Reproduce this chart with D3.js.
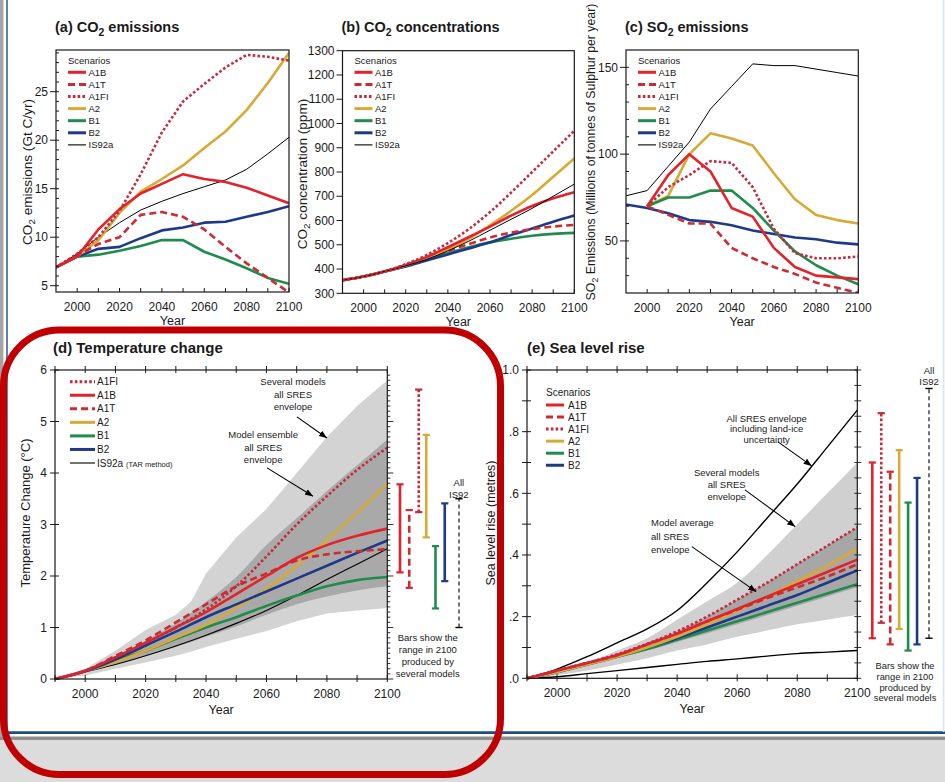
<!DOCTYPE html>
<html><head><meta charset="utf-8">
<script src="https://cdn.jsdelivr.net/npm/d3@7/dist/d3.min.js"></script>
<style>
html,body{margin:0;padding:0;background:#fff;}
svg{display:block;}
svg text{font-family:"Liberation Sans",Arial,Helvetica,sans-serif;fill:#1a1a1a;}
</style></head><body>
<svg id="chart" width="945" height="782"></svg>
<script>
// ================= DATA =================
const years = [1990,2000,2010,2020,2030,2040,2050,2060,2070,2080,2090,2100];
const yearTicks = [2000,2020,2040,2060,2080,2100];

// (a) CO2 emissions (Gt C/yr)
const emA1B   = [6.9,8.0,10.8,12.9,14.5,15.5,16.5,16.0,15.7,15.1,14.3,13.5];
const emA1T   = [6.9,8.1,9.3,10.0,12.3,12.6,12.1,10.8,9.0,7.3,5.8,4.3];
const emA1FI  = [6.9,8.3,10.0,12.7,16.5,20.8,24.0,25.8,27.5,28.8,28.6,28.2];
const emA2    = [6.9,8.0,9.7,12.5,14.7,16.0,17.4,19.2,20.9,23.1,25.9,29.0];
const emB1    = [6.9,8.0,8.2,8.6,9.1,9.7,9.7,8.5,7.7,6.8,5.8,5.2];
const emB2    = [6.9,8.0,8.8,9.0,9.9,10.7,11.0,11.5,11.6,12.1,12.6,13.2];
const emIS92a = [6.9,8.3,10.0,11.5,12.8,13.7,14.5,15.2,15.9,17.0,18.6,20.3];
const emTicks = [5,10,15,20,25];

// (b) CO2 concentrations (ppm)
const coA1B   = [354,369,390,417,450,490,532,575,620,660,692,717];
const coA1T   = [354,369,390,415,445,475,503,530,550,565,575,582];
const coA1FI  = [354,369,390,420,458,507,565,635,715,800,885,970];
const coA2    = [354,369,390,415,445,480,525,580,640,705,780,856];
const coB1    = [354,369,390,412,440,465,490,510,525,537,545,549];
const coB2    = [354,369,390,410,435,460,485,510,540,567,595,621];
const coIS92a = [354,369,390,413,440,475,515,560,605,650,700,750];
const coTicks = [300,400,500,600,700,800,900,1000,1100,1200,1300];

// (c) SO2 emissions (Mt S/yr)
const soA1B   = [null,70,88,100,90,69,64,46,35,30,29,28];
const soA1T   = [null,70,65,60,60,46,40,35,31,26,23,20];
const soA1FI  = [null,70,81,88,96,95,81,57,43,40,40,41];
const soA2    = [null,70,76,100,112,109,105,89,74,65,62,60];
const soB1    = [null,70,75,75,79,79,69,56,44,36,30,25];
const soB2    = [71,69,66,62,61,59,56,54,52,51,49,48];
const soIS92a = [76,79,93,107,126,139,152,151,151,149,147,145];
const soTicks = [50,100,150];

// (d) Temperature change (°C)
const tA1FI  = [0,0.16,0.42,0.70,1.00,1.35,1.80,2.38,3.00,3.55,4.06,4.49];
const tA1B   = [0,0.16,0.42,0.70,1.00,1.30,1.65,2.00,2.35,2.60,2.78,2.92];
const tA1T   = [0,0.16,0.45,0.75,1.10,1.45,1.80,2.05,2.30,2.42,2.48,2.52];
const tA2    = [0,0.15,0.33,0.55,0.80,1.05,1.38,1.75,2.20,2.70,3.23,3.79];
const tB1    = [0,0.15,0.35,0.55,0.78,1.00,1.20,1.42,1.62,1.80,1.92,1.98];
const tB2    = [0,0.15,0.38,0.65,0.92,1.20,1.45,1.70,1.95,2.20,2.45,2.69];
const tIS92a = [0,0.14,0.28,0.45,0.64,0.85,1.08,1.33,1.62,1.93,2.23,2.53];
const envYears    = [1990,2000,2010,2020,2030,2035,2040,2050,2060,2070,2080,2090,2100];
const tSeveralHi  = [0,0.20,0.55,0.95,1.25,1.50,2.05,2.75,3.30,4.00,4.70,5.30,5.80];
const tSeveralLo  = [0,0.07,0.20,0.32,0.45,0.53,0.62,0.78,0.93,1.12,1.27,1.33,1.38];
const tEnsembleHi = [0,0.17,0.44,0.75,1.08,1.28,1.50,1.98,2.60,3.12,3.65,4.15,4.65];
const tEnsembleLo = [0,0.12,0.28,0.45,0.62,0.72,0.82,1.02,1.25,1.45,1.60,1.72,1.80];
const tTicks = [0,1,2,3,4,5,6];
const tBarNames = ["A1B","A1T","A1FI","A2","B1","B2","IS92"];
const tBarLow   = [2.07,1.77,3.24,2.75,1.37,1.90,1.00];
const tBarHigh  = [3.78,3.28,5.62,4.74,2.58,3.41,3.50];

// (e) Sea level rise (metres)
const sA1B   = [0,0.025,0.050,0.075,0.110,0.145,0.185,0.225,0.265,0.305,0.345,0.385];
const sA1T   = [0,0.025,0.050,0.075,0.110,0.145,0.185,0.222,0.260,0.295,0.330,0.370];
const sA1FI  = [0,0.025,0.050,0.078,0.112,0.152,0.200,0.255,0.310,0.370,0.430,0.490];
const sA2    = [0,0.020,0.045,0.070,0.100,0.135,0.175,0.220,0.265,0.315,0.365,0.420];
const sB1    = [0,0.020,0.045,0.070,0.095,0.125,0.155,0.185,0.215,0.245,0.275,0.305];
const sB2    = [0,0.020,0.045,0.070,0.100,0.130,0.165,0.200,0.235,0.270,0.310,0.350];
const sLandIceHi = [0,0.030,0.070,0.115,0.160,0.220,0.310,0.410,0.520,0.630,0.750,0.870];
const sLandIceLo = [0,0.005,0.015,0.025,0.035,0.045,0.055,0.063,0.072,0.080,0.085,0.090];
const sSeveralHi = [0,0.020,0.050,0.090,0.130,0.190,0.250,0.310,0.400,0.500,0.600,0.700];
const sSeveralLo = [0,0.010,0.025,0.045,0.065,0.090,0.110,0.135,0.155,0.175,0.190,0.205];
const sAverageHi = [0,0.025,0.050,0.078,0.112,0.152,0.200,0.255,0.310,0.370,0.430,0.490];
const sAverageLo = [0,0.020,0.043,0.066,0.090,0.118,0.146,0.175,0.205,0.235,0.265,0.295];
const sTicks = [0,0.2,0.4,0.6,0.8,1.0];
const sTickLabels = [".0",".2",".4",".6",".8","1.0"];
const sBarNames = ["A1B","A1FI","A1T","A2","B1","B2","IS92"];
const sBarLow   = [0.13,0.18,0.11,0.16,0.09,0.11,0.13];
const sBarHigh  = [0.70,0.86,0.67,0.74,0.57,0.65,0.94];

// ================= STYLES =================
const STY = {
  A1B:  {c:"#e2232c", dash:null,     w:2.6},
  A1T:  {c:"#cc2b31", dash:"7,4",    w:2.6},
  A1FI: {c:"#c52a3e", dash:"2.6,2.2",w:2.6},
  A2:   {c:"#d8aa35", dash:null,     w:2.6},
  B1:   {c:"#1f8b4d", dash:null,     w:2.6},
  B2:   {c:"#1d3a88", dash:null,     w:2.6},
  IS92a:{c:"#000",    dash:null,     w:1.0},
  IS92: {c:"#000",    dash:"4,3",    w:1.1}
};

const svg = d3.select("#chart");
const defs = svg.append("defs");
defs.append("marker").attr("id","arr").attr("viewBox","0 0 10 8")
  .attr("refX",10).attr("refY",4).attr("markerWidth",8).attr("markerHeight",6.5)
  .attr("markerUnits","userSpaceOnUse").attr("orient","auto")
  .append("path").attr("d","M0,0L10,4L0,8Z").attr("fill","#000");

// ---------- slide frame ----------
svg.append("rect").attr("x",0).attr("y",0).attr("width",945).attr("height",782).attr("fill","#fff");
svg.append("rect").attr("x",0).attr("y",740).attr("width",945).attr("height",42).attr("fill","#dcdcdc");
svg.append("rect").attr("x",0).attr("y",736.5).attr("width",945).attr("height",3.5).attr("fill","#8d8d8d");
svg.append("rect").attr("x",0).attr("y",0).attr("width",3.4).attr("height",737).attr("fill","#a4a4a4");
svg.append("line").attr("x1",7).attr("x2",7).attr("y1",0).attr("y2",733).attr("stroke","#3b6290").attr("stroke-width",1.6);
svg.append("line").attr("x1",6).attr("x2",945).attr("y1",732.6).attr("y2",732.6).attr("stroke","#1f4f80").attr("stroke-width",2.6);
svg.append("line").attr("x1",943.6).attr("x2",943.6).attr("y1",0).attr("y2",732).attr("stroke","#d8e6f2").attr("stroke-width",1.6);

// ---------- helpers ----------
function rich(g, x, y, parts, size, opts={}) {
  const t = g.append("text").attr("x",x).attr("y",y).attr("font-size",size);
  if (opts.anchor) t.attr("text-anchor",opts.anchor);
  if (opts.weight) t.attr("font-weight",opts.weight);
  if (opts.rotate) t.attr("transform",`rotate(-90,${x},${y})`);
  let shifted = false;
  parts.forEach(p => {
    const s = t.append("tspan").text(p.t);
    if (p.sub) { s.attr("font-size",size*0.72).attr("dy",size*0.28); shifted = true; }
    else if (shifted) { s.attr("dy",-size*0.28); shifted = false; }
    if (p.size) s.attr("font-size",p.size);
  });
  return t;
}
function lines3(g, x, y, arr, size, lh, anchor) {
  const t = g.append("text").attr("font-size",size).attr("text-anchor",anchor||"middle");
  arr.forEach((s,i)=> t.append("tspan").attr("x",x).attr("y",y+i*lh).text(s));
}
function tick(g, x1,y1,x2,y2, w) {
  g.append("line").attr("x1",x1).attr("y1",y1).attr("x2",x2).attr("y2",y2)
   .attr("stroke","#1a1a1a").attr("stroke-width",w||1);
}
function zipYears(ys, vals){ return ys.map((yr,i)=>[yr, vals[i]]); }
function drawSeries(g, x, y, list, curve) {
  const ln = d3.line().defined(d=>d[1]!=null).x(d=>x(d[0])).y(d=>y(d[1])).curve(curve);
  list.forEach(s=>{
    const st = STY[s.name];
    g.append("path").datum(zipYears(s.years||years, s.values)).attr("d",ln)
      .attr("fill","none").attr("stroke",st.c).attr("stroke-width",s.w||st.w)
      .attr("stroke-dasharray",st.dash).attr("stroke-linejoin","round");
  });
}
function legend(g, x0, yFirst, step, names, len, gap, size, header, labels) {
  if (header) g.append("text").attr("x",x0).attr("y",yFirst-step+3.5).attr("font-size",size).text(header);
  names.forEach((n,i)=>{
    const st = STY[n], yy = yFirst + i*step;
    g.append("line").attr("x1",x0).attr("x2",x0+len).attr("y1",yy).attr("y2",yy)
      .attr("stroke",st.c).attr("stroke-width",n==="IS92a"?1.1:3).attr("stroke-dasharray",st.dash);
    const lab = labels ? labels[i] : [{t:n}];
    rich(g, x0+len+gap, yy+3.5, lab, size);
  });
}

// ---------- top panels ----------
function topPanel(o) {
  const x = d3.scaleLinear().domain([1990,2100]).range([o.x0,o.x1]);
  const y = d3.scaleLinear().domain(o.yDomain).range([o.y1,o.y0]);
  const g = svg.append("g");
  const cid = "clip"+o.id;
  defs.append("clipPath").attr("id",cid).append("rect")
    .attr("x",o.x0).attr("y",o.y0).attr("width",o.x1-o.x0).attr("height",o.y1-o.y0);
  const gl = g.append("g").attr("clip-path",`url(#${cid})`);
  drawSeries(gl, x, y, o.series, o.curve);
  g.append("rect").attr("x",o.x0).attr("y",o.y0).attr("width",o.x1-o.x0).attr("height",o.y1-o.y0)
    .attr("fill","none").attr("stroke","#1a1a1a").attr("stroke-width",1.2);
  d3.range(2000,2101,10).forEach(v=> tick(g, x(v), o.y1, x(v), o.y1-4));
  yearTicks.forEach(v=> g.append("text").attr("x",x(v)).attr("y",o.y1+18.5).attr("font-size",12)
    .attr("text-anchor","middle").text(v));
  g.append("text").attr("x",(o.x0+o.x1)/2).attr("y",o.y1+33).attr("font-size",12.5)
    .attr("text-anchor","middle").text("Year");
  o.yMinor.forEach(v=> tick(g, o.x0, y(v), o.x0+3, y(v)));
  o.yTicks.forEach(v=>{
    tick(g, o.x0-6, y(v), o.x0, y(v));
    g.append("text").attr("x",o.x0-8).attr("y",y(v)+4.2).attr("font-size",12)
      .attr("text-anchor","end").text(v);
  });
  rich(g, o.x0-1, 32, o.title, 14.5, {weight:"bold"});
  rich(g, o.ylx, o.yly, o.ylabel, o.ylsize, {anchor:"middle", rotate:true});
  legend(g, o.x0+12, 72.3, 12.1, ["A1B","A1T","A1FI","A2","B1","B2","IS92a"], 18, 2.5, 9.5, "Scenarios");
  return {x,y,g};
}

topPanel({id:"a", x0:56, x1:289, y0:50, y1:292, yDomain:[4.35,29.3],
  yTicks:emTicks, yMinor:d3.range(5,30,1), curve:d3.curveLinear,
  series:[{name:"B1",values:emB1},{name:"B2",values:emB2},{name:"IS92a",values:emIS92a},
          {name:"A2",values:emA2},{name:"A1T",values:emA1T},{name:"A1B",values:emA1B},{name:"A1FI",values:emA1FI}],
  title:[{t:"(a) CO"},{t:"2",sub:true},{t:" emissions"}],
  ylabel:[{t:"CO"},{t:"2",sub:true},{t:" emissions  (Gt C/yr)"}], ylx:31.5, yly:172, ylsize:13.6});

topPanel({id:"b", x0:342.5, x1:574.3, y0:50.7, y1:293.3, yDomain:[300,1300],
  yTicks:coTicks, yMinor:[], curve:d3.curveMonotoneX,
  series:[{name:"B1",values:coB1},{name:"B2",values:coB2},{name:"A1T",values:coA1T},
          {name:"A2",values:coA2},{name:"A1B",values:coA1B},{name:"IS92a",values:coIS92a},{name:"A1FI",values:coA1FI}],
  title:[{t:"(b) CO"},{t:"2",sub:true},{t:" concentrations"}],
  ylabel:[{t:"CO"},{t:"2",sub:true},{t:" concentration (ppm)"}], ylx:306.5, yly:174, ylsize:13.6});

topPanel({id:"c", x0:626, x1:858.3, y0:50, y1:293, yDomain:[20,160],
  yTicks:soTicks, yMinor:d3.range(30,160,10), curve:d3.curveLinear,
  series:[{name:"IS92a",values:soIS92a},{name:"B2",values:soB2},{name:"A2",values:soA2},
          {name:"B1",values:soB1},{name:"A1FI",values:soA1FI},{name:"A1T",values:soA1T},{name:"A1B",values:soA1B}],
  title:[{t:"(c) SO"},{t:"2",sub:true},{t:" emissions"}],
  ylabel:[{t:"SO"},{t:"2",sub:true},{t:" Emissions (Millions of tonnes of Sulphur per year)"}], ylx:595, yly:152, ylsize:12.3});

// ---------- bottom panels ----------
function area(g, x, y, ys, lo, hi, fill, curve) {
  const a = d3.area().x(d=>x(d[0])).y0(d=>y(d[1])).y1(d=>y(d[2])).curve(curve);
  g.append("path").datum(ys.map((yr,i)=>[yr,lo[i],hi[i]])).attr("d",a).attr("fill",fill);
}
function bars(g, y, names, low, high, xs) {
  names.forEach((n,i)=>{
    const st = STY[n], bx = xs(i);
    g.append("line").attr("x1",bx).attr("x2",bx).attr("y1",y(low[i])).attr("y2",y(high[i]))
      .attr("stroke",st.c).attr("stroke-width",n==="IS92"?1.1:2.6).attr("stroke-dasharray",st.dash);
    [low[i],high[i]].forEach(v=> g.append("line").attr("x1",bx-3.6).attr("x2",bx+3.6)
      .attr("y1",y(v)).attr("y2",y(v)).attr("stroke",st.c).attr("stroke-width",n==="IS92"?1.4:2.2));
  });
}
function arrow(g, x, y, a, b) {
  g.append("line").attr("x1",x(a[0])).attr("y1",y(a[1])).attr("x2",x(b[0])).attr("y2",y(b[1]))
    .attr("stroke","#000").attr("stroke-width",1.1).attr("marker-end","url(#arr)");
}

// (d)
(function(){
  const o = {x0:55, x1:387.3, y0:370, y1:679};
  const x = d3.scaleLinear().domain([1990,2100]).range([o.x0,o.x1]);
  const y = d3.scaleLinear().domain([0,6]).range([o.y1,o.y0]);
  const g = svg.append("g");
  area(g, x, y, envYears, tSeveralLo, tSeveralHi, "#d3d3d3", d3.curveLinear);
  area(g, x, y, envYears, tEnsembleLo, tEnsembleHi, "#a9a9a9", d3.curveMonotoneX);
  drawSeries(g, x, y, [{name:"IS92a",values:tIS92a,w:1.1},{name:"B1",values:tB1},{name:"A2",values:tA2},
    {name:"B2",values:tB2},{name:"A1T",values:tA1T},{name:"A1B",values:tA1B},{name:"A1FI",values:tA1FI}], d3.curveMonotoneX);
  g.append("rect").attr("x",o.x0).attr("y",o.y0).attr("width",o.x1-o.x0).attr("height",o.y1-o.y0)
    .attr("fill","none").attr("stroke","#1a1a1a").attr("stroke-width",1.2);
  d3.range(1990,2101,10).forEach(v=>{ tick(g,x(v),o.y1-4,x(v),o.y1+3); tick(g,x(v),o.y0-4,x(v),o.y0+3); });
  yearTicks.forEach(v=> g.append("text").attr("x",x(v)).attr("y",o.y1+18.5).attr("font-size",12)
    .attr("text-anchor","middle").text(v));
  g.append("text").attr("x",(o.x0+o.x1)/2).attr("y",o.y1+35).attr("font-size",12.5).attr("text-anchor","middle").text("Year");
  tTicks.forEach(v=>{
    tick(g,o.x0-5,y(v),o.x0+4,y(v));
    g.append("text").attr("x",o.x0-8).attr("y",y(v)+4.2).attr("font-size",12).attr("text-anchor","end").text(v);
  });
  d3.range(0,60,1).forEach(k=>{ const v=k/10; tick(g,o.x1,y(v),o.x1+(k%10===0?6:3),y(v),0.9); });
  rich(g, 53, 353, [{t:"(d) Temperature change"}], 15, {weight:"bold"});
  rich(g, 29.5, 513, [{t:"Temperature Change (°C)"}], 13, {anchor:"middle", rotate:true});
  legend(g, 70, 381.7, 13.55, ["A1FI","A1B","A1T","A2","B1","B2","IS92a"], 25, 2, 10, null,
    [[{t:"A1FI"}],[{t:"A1B"}],[{t:"A1T"}],[{t:"A2"}],[{t:"B1"}],[{t:"B2"}],[{t:"IS92a "},{t:"(TAR method)",size:7.5}]]);
  lines3(g, x(2068.8), y(5.77)+3.5, ["Several models","all SRES","envelope"], 9.5, 12.5);
  arrow(g, x, y, [2070.1,5.09], [2080.0,4.68]);
  lines3(g, x(2058.9), y(4.74)+3.5, ["Model ensemble","all SRES","envelope"], 9.5, 12.3);
  arrow(g, x, y, [2060.2,4.10], [2075.4,3.55]);
  const bx = d3.scaleLinear().domain([0,6]).range([400,455.5]);
  bars(g, y, tBarNames, tBarLow, tBarHigh, i=> i<6 ? bx(i)+(i>=3?-1.5:0) + (i===2?0.2:0) : bx(6)+3.5);
  lines3(g, x(2123.7), y(3.81)+3.5, ["All","IS92"], 9.5, 11.5);
  lines3(g, x(2113.4), y(0.80)+3.5, ["Bars show the","range in 2100","produced by","several models"], 9.5, 12);
})();

// (e)
(function(){
  const o = {x0:527, x1:857.3, y0:370, y1:678.3};
  const x = d3.scaleLinear().domain([1990,2100]).range([o.x0,o.x1]);
  const y = d3.scaleLinear().domain([0,1]).range([o.y1,o.y0]);
  const g = svg.append("g");
  area(g, x, y, years, sSeveralLo, sSeveralHi, "#d0d0d0", d3.curveMonotoneX);
  area(g, x, y, years, sAverageLo, sAverageHi, "#a7a7a7", d3.curveMonotoneX);
  const ln = d3.line().x(d=>x(d[0])).y(d=>y(d[1])).curve(d3.curveMonotoneX);
  [sLandIceHi, sLandIceLo].forEach(v=> g.append("path").datum(zipYears(years,v)).attr("d",ln)
     .attr("fill","none").attr("stroke","#000").attr("stroke-width",1.4));
  drawSeries(g, x, y, [{name:"B1",values:sB1},{name:"B2",values:sB2},{name:"A2",values:sA2},
    {name:"A1T",values:sA1T},{name:"A1B",values:sA1B},{name:"A1FI",values:sA1FI}], d3.curveMonotoneX);
  g.append("rect").attr("x",o.x0).attr("y",o.y0).attr("width",o.x1-o.x0).attr("height",o.y1-o.y0)
    .attr("fill","none").attr("stroke","#1a1a1a").attr("stroke-width",1.2);
  d3.range(1990,2101,10).forEach(v=>{ tick(g,x(v),o.y1-4,x(v),o.y1+3); tick(g,x(v),o.y0-4,x(v),o.y0+3); });
  yearTicks.forEach(v=> g.append("text").attr("x",x(v)).attr("y",o.y1+18.5).attr("font-size",12)
    .attr("text-anchor","middle").text(v));
  g.append("text").attr("x",(o.x0+o.x1)/2).attr("y",o.y1+35).attr("font-size",12.5).attr("text-anchor","middle").text("Year");
  d3.range(0,11,1).forEach(k=> tick(g,o.x0-5,y(k/10),o.x0+4,y(k/10)));
  d3.range(0,21,1).forEach(k=> tick(g,o.x1-3,y(k/20),o.x1+4,y(k/20),0.9));
  sTicks.forEach((v,i)=> g.append("text").attr("x",o.x0-8).attr("y",y(v)+4.2).attr("font-size",12)
    .attr("text-anchor","end").text(sTickLabels[i]));
  rich(g, 527, 353, [{t:"(e) Sea level rise"}], 15, {weight:"bold"});
  rich(g, 494.5, 523, [{t:"Sea level rise (metres)"}], 12.5, {anchor:"middle", rotate:true});
  legend(g, 546, 405, 12.05, ["A1B","A1T","A1FI","A2","B1","B2"], 18, 4, 10, "Scenarios");
  lines3(g, x(2069.8), y(0.844)+3.5, ["All SRES envelope","including land-ice","uncertainty"], 9.5, 10.6);
  arrow(g, x, y, [2073.6,0.767], [2084.8,0.689]);
  lines3(g, x(2056.5), y(0.666)+3.5, ["Several models","all SRES","envelope"], 9.5, 11.6);
  arrow(g, x, y, [2062.6,0.611], [2079.3,0.492]);
  lines3(g, x(2031.3), y(0.504)+3.5, ["Model average","all SRES","envelope"], 9.5, 13.3, "start");
  arrow(g, x, y, [2044.9,0.427], [2066.3,0.281]);
  const bx = d3.scaleLinear().domain([0,6]).range([872.3,926]);
  bars(g, y, sBarNames, sBarLow, sBarHigh, i=> i<6 ? bx(i) : bx(6)+3);
  lines3(g, x(2123.9), y(1.0)+3.5, ["All","IS92"], 9.5, 11.5);
  lines3(g, x(2115.9), y(0.04)+3.5, ["Bars show the","range in 2100","produced by","several models"], 9.3, 10.6);
})();

// ---------- highlight ----------
svg.append("rect").attr("x",3.5).attr("y",330).attr("width",497).attr("height",444.5).attr("rx",56)
  .attr("fill","none").attr("stroke","#c00000").attr("stroke-width",7);
</script></body></html>
